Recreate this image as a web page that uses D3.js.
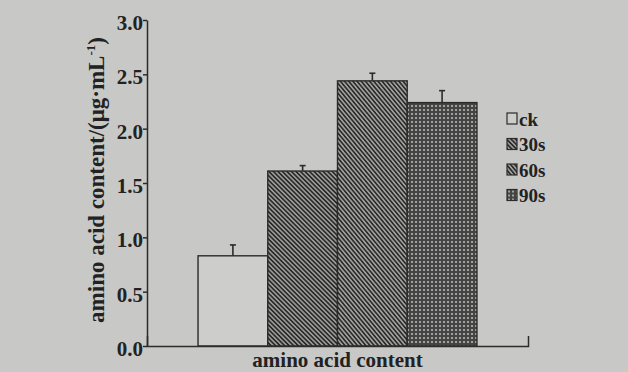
<!DOCTYPE html>
<html>
<head>
<meta charset="utf-8">
<script src="https://cdn.jsdelivr.net/npm/d3@7"></script>
<style>
  html, body { margin: 0; padding: 0; background: #c8c8c6; }
  svg { display: block; }
  text { font-family: "Liberation Serif", "Times New Roman", serif; font-weight: bold; fill: #222; }
</style>
</head>
<body>
<div id="chart"></div>
<script>
const categories = ['amino acid content'];
const series = ['ck', '30s', '60s', '90s'];
const values = [0.83, 1.61, 2.44, 2.24];
const errors = [0.10, 0.05, 0.07, 0.11];
const yTicks = [0, 0.5, 1.0, 1.5, 2.0, 2.5, 3.0];

const width = 628;
const height = 372;
const margin = { top: 20, right: 100, bottom: 26, left: 147 };
const ink = '#2b2b2b';

const svg = d3.select('#chart').append('svg')
  .attr('width', width)
  .attr('height', height);

svg.append('rect')
  .attr('width', width)
  .attr('height', height)
  .attr('fill', '#c8c8c6');

// fill patterns for the bars
const defs = svg.append('defs');

const p30 = defs.append('pattern')
  .attr('id', 'pat-30s')
  .attr('patternUnits', 'userSpaceOnUse')
  .attr('width', 3.2).attr('height', 3.2)
  .attr('patternTransform', 'rotate(45)');
p30.append('rect').attr('width', 3.2).attr('height', 3.2).attr('fill', '#9a9a98');
p30.append('rect').attr('width', 3.2).attr('height', 1.6).attr('fill', '#2a2a2a');

const p60 = defs.append('pattern')
  .attr('id', 'pat-60s')
  .attr('patternUnits', 'userSpaceOnUse')
  .attr('width', 3.2).attr('height', 3.2)
  .attr('patternTransform', 'rotate(50)');
p60.append('rect').attr('width', 3.2).attr('height', 3.2).attr('fill', '#a0a09e');
p60.append('rect').attr('width', 3.2).attr('height', 1.6).attr('fill', '#2c2c2c');

const p90 = defs.append('pattern')
  .attr('id', 'pat-90s')
  .attr('patternUnits', 'userSpaceOnUse')
  .attr('width', 4).attr('height', 4);
p90.append('rect').attr('width', 4).attr('height', 4).attr('fill', '#444');
p90.append('rect').attr('x', 1).attr('y', 1).attr('width', 2).attr('height', 2).attr('fill', '#a2a2a0');

const fills = ['#cdcdcb', 'url(#pat-30s)', 'url(#pat-60s)', 'url(#pat-90s)'];

const x0 = d3.scaleBand()
  .domain(categories)
  .range([margin.left, width - margin.right])
  .paddingInner(0)
  .paddingOuter(0.183);

const x1 = d3.scaleBand()
  .domain(series)
  .range([0, x0.bandwidth()])
  .padding(0);

const y = d3.scaleLinear()
  .domain([0, 3.0])
  .range([height - margin.bottom, margin.top]);

// bars
const group = svg.append('g')
  .attr('transform', 'translate(' + x0(categories[0]) + ',0)');

group.selectAll('.bar')
  .data(series)
  .enter()
  .append('rect')
  .attr('class', 'bar')
  .attr('x', d => x1(d))
  .attr('y', (d, i) => y(values[i]))
  .attr('width', x1.bandwidth())
  .attr('height', (d, i) => y(0) - y(values[i]))
  .attr('fill', (d, i) => fills[i])
  .attr('stroke', ink)
  .attr('stroke-width', 1.4);

// error bars (upper only)
const err = group.selectAll('.err')
  .data(series)
  .enter()
  .append('g')
  .attr('class', 'err');

err.append('line')
  .attr('x1', d => x1(d) + x1.bandwidth() / 2)
  .attr('x2', d => x1(d) + x1.bandwidth() / 2)
  .attr('y1', (d, i) => y(values[i]))
  .attr('y2', (d, i) => y(values[i] + errors[i]))
  .attr('stroke', ink)
  .attr('stroke-width', 1.6);

err.append('line')
  .attr('x1', d => x1(d) + x1.bandwidth() / 2 - 3)
  .attr('x2', d => x1(d) + x1.bandwidth() / 2 + 3)
  .attr('y1', (d, i) => y(values[i] + errors[i]))
  .attr('y2', (d, i) => y(values[i] + errors[i]))
  .attr('stroke', ink)
  .attr('stroke-width', 1.6);

// axes
const yAxis = svg.append('g')
  .attr('transform', 'translate(' + margin.left + ',0)')
  .call(d3.axisLeft(y)
    .tickValues(yTicks)
    .tickFormat(d3.format('.1f'))
    .tickSize(4)
    .tickSizeOuter(0)
    .tickPadding(0));

yAxis.selectAll('text')
  .attr('font-size', '21px')
  .attr('font-family', '"Liberation Serif", serif')
  .attr('font-weight', 'bold')
  .attr('fill', '#222')
  .attr('dy', '0.45em');
yAxis.selectAll('line, path')
  .attr('stroke', ink)
  .attr('stroke-width', 1.5);

const xAxis = svg.append('g')
  .attr('transform', 'translate(0,' + y(0) + ')')
  .call(d3.axisBottom(x0)
    .tickSizeInner(0)
    .tickSizeOuter(-10)
    .tickPadding(0));

xAxis.selectAll('text')
  .attr('font-size', '21px')
  .attr('font-family', '"Liberation Serif", serif')
  .attr('font-weight', 'bold')
  .attr('fill', '#222')
  .attr('y', 21)
  .attr('dy', 0);
xAxis.selectAll('line, path')
  .attr('stroke', ink)
  .attr('stroke-width', 1.5);

// y axis title
const yTitle = svg.append('text')
  .attr('transform', 'translate(104,' + ((y(0) + y(3.0)) / 2 - 3) + ') rotate(-90)')
  .attr('text-anchor', 'middle')
  .attr('font-size', '23px');
yTitle.append('tspan').text('amino acid content/(μg·mL');
yTitle.append('tspan').attr('font-size', '13px').attr('dy', '-9').text('-1');
yTitle.append('tspan').attr('dy', '9').text(')');

// legend
const legend = svg.append('g')
  .attr('transform', 'translate(507,113)');

const legendRows = legend.selectAll('.legend-row')
  .data(series)
  .enter()
  .append('g')
  .attr('class', 'legend-row')
  .attr('transform', (d, i) => 'translate(0,' + i * 25.5 + ')');

legendRows.append('rect')
  .attr('width', 10)
  .attr('height', 11)
  .attr('fill', (d, i) => fills[i])
  .attr('stroke', ink)
  .attr('stroke-width', 1.2);

legendRows.append('text')
  .attr('x', 12)
  .attr('y', 12.5)
  .attr('font-size', '19px')
  .attr('font-family', '"Liberation Sans Narrow", "Liberation Sans", Arial, sans-serif')
  .text(d => d);
</script>
</body>
</html>
